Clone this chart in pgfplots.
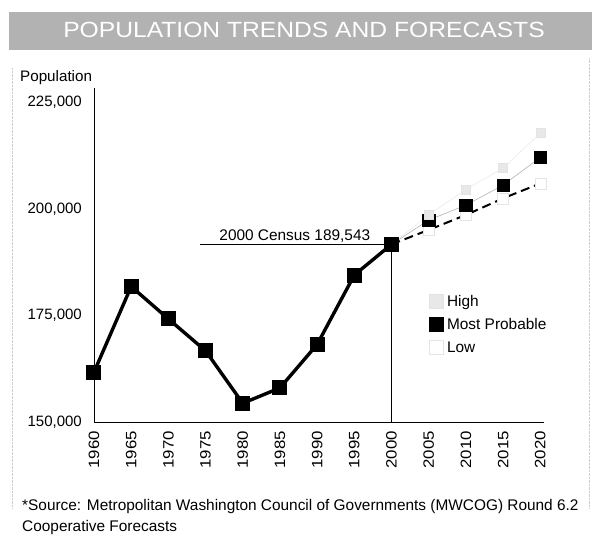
\documentclass[border=0pt]{standalone}
\usepackage{pgfplots}
\pgfplotsset{compat=1.18}
\usepackage{fontspec}
\setmainfont{Liberation Sans}
\newcommand{\yl}[1]{\scalebox{1.12}[1]{#1}}
\begin{document}
\begin{tikzpicture}
\path[use as bounding box] (0pt,0pt) rectangle (595pt,538pt);
\fill[white] (0pt,0pt) rectangle (595pt,538pt);
% banner
\fill[gray!60] (9pt,526pt) rectangle (592pt,488pt);
\node[text=white, font=\fontsize{22}{26}\selectfont] at (304pt,508pt) {\scalebox{1.12}[1]{POPULATION TRENDS AND FORECASTS}};
% faint page border
\draw[gray!40, densely dotted] (12pt,30pt) -- (12pt,470pt);
\draw[gray!40, densely dotted] (589pt,30pt) -- (589pt,480pt);
\node[anchor=west, font=\fontsize{15.2}{17}\selectfont, inner sep=0pt] at (20pt,460pt) {Population};
\begin{axis}[
  at={(94pt,116pt)}, anchor=south west, scale only axis,
  width=450pt, height=334pt,
  xmin=1960, xmax=2020.5, ymin=150000, ymax=228400,
  axis x line*=bottom, axis y line*=left,
  axis line style={-, line width=0.8pt},
  major tick length=0pt,
  scaled y ticks=false,
  xtick={1960,1965,1970,1975,1980,1985,1990,1995,2000,2005,2010,2015,2020},
  xticklabels={\yl{1960},\yl{1965},\yl{1970},\yl{1975},\yl{1980},\yl{1985},\yl{1990},\yl{1995},\yl{2000},\yl{2005},\yl{2010},\yl{2015},\yl{2020}},
  ytick={150000,175000,200000,225000},
  yticklabels={{150,000},{175,000},{200,000},{225,000}},
  tick label style={font=\fontsize{15}{17}\selectfont},
  xticklabel style={rotate=90, anchor=east, inner xsep=9pt, inner ysep=0pt},
  yticklabel style={anchor=east, inner xsep=12pt, inner ysep=0pt},
  clip=false,
  reverse legend,
  legend style={at={(0.742,0.383)}, anchor=north west, draw=none, fill=none,
    font=\fontsize{15.4}{17}\selectfont, row sep=8.5pt, inner sep=0pt,
    nodes={inner xsep=2pt, inner ysep=1pt}},
  legend cell align=left,
  legend image code/.code={\path[draw=none, fill=none] (0pt,-1pt) rectangle (17pt,1pt);
    \path[#1, draw=none, mark phase=1, mark repeat=1, mark size=7pt] plot coordinates {(8pt,0pt)};},
]
% census annotation
\draw[black, line width=0.8pt] (axis cs:1974.3,191700) -- (axis cs:2000,191700);
\draw[black, line width=0.8pt] (axis cs:2000,150000) -- (axis cs:2000,191700);
\node[above, font=\fontsize{15.4}{17}\selectfont, inner sep=1.5pt] at (axis cs:1987,191700) {2000 Census 189,543};
% Low
\addplot[black, line width=2pt, dash pattern=on 9pt off 5pt, mark=square*, mark size=5.5pt, mark phase=2,
  mark options={solid, fill=white, draw=gray!20, line width=0.5pt}]
  coordinates {(2000,191700)(2005,195100)(2010,198600)(2015,202500)(2020,206000)};
\addlegendentry{Low}
% Most probable
\addplot[gray!60, line width=0.6pt, mark=square*, mark size=6.2pt, mark phase=2,
  mark options={solid, fill=black, draw=black}]
  coordinates {(2000,191700)(2005,197400)(2010,200900)(2015,205600)(2020,212100)};
\addlegendentry{Most Probable}
% High
\addplot[gray!20, line width=0.4pt, mark=square*, mark size=4.5pt, mark phase=2,
  mark options={solid, fill=gray!18, draw=gray!22}]
  coordinates {(2000,191700)(2005,198600)(2010,204600)(2015,209600)(2020,217800)};
\addlegendentry{High}
% historical
\addplot[black, line width=3.4pt, mark=square*, mark size=5.8pt, mark options={solid}, forget plot]
  coordinates {(1960,161700)(1965,181800)(1970,174200)(1975,166700)(1980,154400)(1985,158000)(1990,168200)(1995,184500)(2000,191700)};
\end{axis}
\node[anchor=west, font=\fontsize{15.4}{17}\selectfont, inner sep=0pt] at (22pt,31pt) {*Source: Metropolitan Washington Council of Governments (MWCOG) Round 6.2};
\node[anchor=west, font=\fontsize{15.4}{17}\selectfont, inner sep=0pt] at (22pt,10pt) {Cooperative Forecasts};
\end{tikzpicture}
\end{document}
